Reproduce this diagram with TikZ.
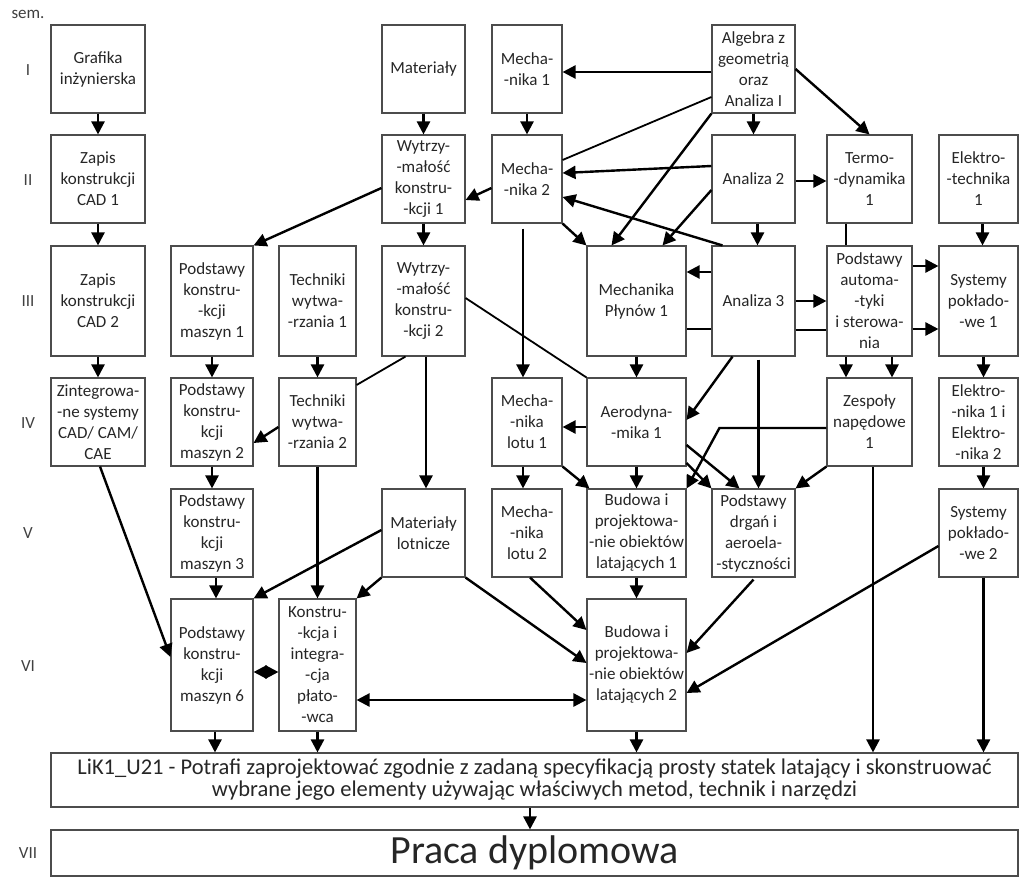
\documentclass[tikz,border=0pt]{standalone}
\usepackage{fontspec}
\setmainfont{Carlito}
\usetikzlibrary{arrows.meta}

\begin{document}
\begin{tikzpicture}[x=1pt, y=-1pt, >={Triangle[length=13pt,width=13pt]},
    box/.style={draw=black!70, line width=1.1pt, align=center, inner sep=0pt,
      text=black!85, font=\fontsize{17}{21}\selectfont,
      minimum height=88pt, minimum width=#1},
    box/.default=83pt,
    tall/.style={minimum height=110pt},
    taller/.style={minimum height=132pt},
    arr/.style={->, line width=2.4pt},
    ln/.style={line width=1.8pt},
    sem/.style={text=black!75, font=\fontsize{17}{20}\selectfont}]
  \useasboundingbox (0,0) rectangle (1019,877);

  % semestry
  \node[sem] (sem) at (28,14) {sem.};
  \node[sem] (s1) at (28,70) {I};
  \node[sem] (s2) at (28,180) {II};
  \node[sem] (s3) at (28,301) {III};
  \node[sem] (s4) at (28,423) {IV};
  \node[sem] (s5) at (28,533) {V};
  \node[sem] (s6) at (28,666) {VI};
  \node[sem] (s7) at (28,853) {VII};

  % kolumny
  \node[box=94pt] (graf) at (98,69) {Grafika\\inżynierska};
  \node[box=94pt] (cad1) at (98,179) {Zapis\\konstrukcji\\CAD 1};
  \node[box=94pt, tall] (cad2) at (98,301) {Zapis\\konstrukcji\\CAD 2};
  \node[box=94pt] (zint) at (98,422) {Zintegrowa-\\-ne systemy\\CAD/ CAM/\\CAE};

  \node[box=82pt, tall] (pkm1) at (212,301) {Podstawy\\konstru-\\-kcji\\maszyn 1};
  \node[box=82pt] (pkm2) at (212,422) {Podstawy\\konstru-\\kcji\\maszyn 2};
  \node[box=82pt] (pkm3) at (212,533) {Podstawy\\konstru-\\kcji\\maszyn 3};
  \node[box=82pt, taller] (pkm6) at (212,665) {Podstawy\\konstru-\\kcji\\maszyn 6};

  \node[box=77pt, tall] (tw1) at (317.5,301) {Techniki\\wytwa-\\-rzania 1};
  \node[box=77pt] (tw2) at (317.5,422) {Techniki\\wytwa-\\-rzania 2};
  \node[box=77pt, taller] (konstr) at (317.5,665) {Konstru-\\-kcja i\\integra-\\-cja\\płato-\\-wca};

  \node[box] (mat) at (423.5,69) {Materiały};
  \node[box] (wyt1) at (423.5,179) {Wytrzy-\\-małość\\konstru-\\-kcji 1};
  \node[box, tall] (wyt2) at (423.5,301) {Wytrzy-\\-małość\\konstru-\\-kcji 2};
  \node[box] (mlot) at (423.5,533) {Materiały\\lotnicze};

  \node[box=70pt] (mech1) at (527,69) {Mecha-\\-nika 1};
  \node[box=70pt] (mech2) at (527,179) {Mecha-\\-nika 2};
  \node[box=70pt] (ml1) at (527,422) {Mecha-\\-nika\\lotu 1};
  \node[box=70pt] (ml2) at (527,533) {Mecha-\\-nika\\lotu 2};

  \node[box=99pt, tall] (mpl) at (636.5,301) {Mechanika\\Płynów 1};
  \node[box=99pt] (aero) at (636.5,422) {Aerodyna-\\-mika 1};
  \node[box=99pt] (bud1) at (636.5,533) {Budowa i\\projektowa-\\-nie obiektów\\latających 1};
  \node[box=99pt, taller] (bud2) at (636.5,665) {Budowa i\\projektowa-\\-nie obiektów\\latających 2};

  \node[box] (alg) at (753.5,69) {Algebra z\\geometrią\\oraz\\Analiza I};
  \node[box] (an2) at (753.5,179) {Analiza 2};
  \node[box, tall] (an3) at (753.5,301) {Analiza 3};
  \node[box] (pdr) at (753.5,533) {Podstawy\\drgań i\\aeroela-\\-styczności};

  \node[box=85pt] (termo) at (869.5,179) {Termo-\\-dynamika\\1};
  \node[box=85pt, tall] (pa) at (869.5,301) {Podstawy\\automa-\\-tyki\\i sterowa-\\nia};
  \node[box=85pt] (zesp) at (869.5,422) {Zespoły\\napędowe\\1};

  \node[box=79pt] (el1) at (978.5,179) {Elektro-\\-technika\\1};
  \node[box=79pt, tall] (sp1) at (978.5,301) {Systemy\\pokłado-\\-we 1};
  \node[box=79pt] (eln) at (978.5,422) {Elektro-\\-nika 1 i\\Elektro-\\-nika 2};
  \node[box=79pt] (sp2) at (978.5,533) {Systemy\\pokłado-\\-we 2};

  \node[box=967pt, minimum height=54pt, font=\fontsize{22.5}{22}\selectfont] (lik) at (534.5,780)
    {LiK1\_U21 - Potrafi zaprojektować zgodnie z zadaną specyfikacją prosty statek latający i skonstruować\\wybrane jego elementy używając właściwych metod, technik i narzędzi};
  \node[box=967pt, minimum height=46pt, font=\fontsize{40}{44}\selectfont] (praca) at (534.5,853) {Praca dyplomowa};

  % semestr I
  \draw[arr] (graf) -- (cad1);
  \draw[arr] (mat) -- (wyt1);
  \draw[arr] (mech1) -- (mech2);
  \draw[arr] ([yshift=-3pt]alg.west) -- ([yshift=-3pt]mech1.east);
  \draw[arr] (alg) -- (an2);
  \draw[arr] (alg.east) -- (termo.north);
  \draw[ln] ([yshift=-28pt]alg.west) -- ([yshift=19pt]mech2.east);
  \draw[arr] (alg.south west) -- ([xshift=-25pt]mpl.north);

  % semestr II
  \draw[arr] (cad1) -- (cad2);
  \draw[arr] (wyt1) -- (wyt2);
  \draw[arr] ([yshift=-9pt]wyt1.west) -- (pkm1.north east);
  \draw[arr] ([yshift=-9pt]mech2.west) -- ([yshift=-21pt]wyt1.east);
  \draw[arr] ([yshift=13pt]an2.west) -- ([yshift=6pt]mech2.east);
  \draw[arr] ([yshift=-2pt]an2.east) -- ([yshift=-2pt]termo.west);
  \draw[arr] ([xshift=4pt]an2.south) -- ([xshift=4pt]an3.north);
  \draw[arr] ([yshift=-11pt]an2.west) -- ([xshift=26pt]mpl.north);
  \draw[arr] ([xshift=-31pt]an3.north) -- ([yshift=-18pt]mech2.east);
  \draw[arr] (mech2.south east) -- (mpl.north west);
  \draw[arr] ([xshift=-4pt,yshift=-5pt]mech2.south) -- ([xshift=-4pt]ml1.north);
  \draw[ln] ([xshift=-23.5pt]termo.south) -- ([xshift=-23.5pt]pa.north);
  \draw[arr] ([xshift=4pt]el1.south) -- ([xshift=4pt]sp1.north);

  % semestr III
  \draw[arr] (cad2) -- (zint);
  \draw[arr] (pkm1) -- (pkm2);
  \draw[arr] (tw1) -- (tw2);
  \draw[arr] ([xshift=2.5pt]wyt2.south) -- ([xshift=2.5pt]mlot.north);
  \draw[ln] ([yshift=3pt]wyt2.east) -- (aero.north west);
  \draw[ln] ([xshift=-18pt]wyt2.south) -- ([yshift=37pt]tw2.east);
  \draw[arr] (mpl) -- (aero);
  \draw[arr] ([yshift=29pt]an3.west) -- ([yshift=29pt]mpl.east);
  \draw[ln] ([yshift=-28pt]an3.west) -- ([yshift=-28pt]mpl.east);
  \draw[arr] (an3) -- (pa);
  \draw[ln] ([yshift=-29pt]an3.east) -- ([yshift=-29pt]pa.west);
  \draw[arr] ([yshift=35pt]pa.east) -- ([yshift=35pt]sp1.west);
  \draw[arr] ([yshift=-28pt]pa.east) -- ([yshift=-28pt]sp1.west);
  \draw[arr] ([xshift=-23.5pt]pa.south) -- ([xshift=-23.5pt]zesp.north);
  \draw[arr] ([xshift=22.5pt]pa.south) -- ([xshift=22.5pt]zesp.north);
  \draw[arr] ([xshift=5pt]sp1.south) -- ([xshift=5pt]eln.north);
  \draw[arr] ([xshift=-21pt]an3.south) -- ([yshift=2pt]aero.east);
  \draw[arr] ([xshift=5pt,yshift=-3pt]an3.south) -- ([xshift=5pt]pdr.north);

  % semestr IV
  \draw[arr] ([xshift=2pt]zint.south) -- ([yshift=8pt]pkm6.west);
  \draw[arr] (pkm2) -- (pkm3);
  \draw[arr] ([yshift=-5pt]tw2.west) -- ([yshift=-21pt]pkm2.east);
  \draw[arr] (tw2) -- (konstr);
  \draw[arr] ([yshift=-5pt]aero.west) -- ([yshift=-5pt]ml1.east);
  \draw[arr] ([xshift=-4pt]ml1.south) -- ([xshift=-4pt]ml2.north);
  \draw[arr] (ml1.south east) -- ([xshift=3pt]bud1.north west);
  \draw[arr] (aero) -- (bud1);
  \draw[arr] ([yshift=-23pt]aero.east) -- ([xshift=-14pt]pdr.north);
  \draw[arr] ([yshift=-41pt]aero.east) -- (pdr.north west);
  \draw[arr] ([yshift=-6pt]zesp.west) -- ([xshift=-107pt,yshift=-6pt]zesp.west) -- (bud1.north east);
  \draw[arr] (zesp.south west) -- (pdr.north east);
  \draw[arr] ([xshift=3.5pt]zesp.south) -- ([xshift=338.5pt]lik.north);
  \draw[arr] ([xshift=5pt]eln.south) -- ([xshift=5pt]sp2.north);

  % semestr V
  \draw[arr] ([xshift=4pt]pkm3.south) -- ([xshift=4pt]pkm6.north);
  \draw[arr] ([yshift=3pt]mlot.west) -- (pkm6.north east);
  \draw[arr] (mlot.south west) -- (konstr.north east);
  \draw[arr] (mlot.south east) -- ([yshift=2pt]bud2.west);
  \draw[arr] ([xshift=3pt]ml2.south) -- ([yshift=35pt]bud2.west);
  \draw[arr] (bud1) -- (bud2);
  \draw[arr] ([yshift=-2pt]pdr.south) -- ([yshift=12pt]bud2.east);
  \draw[arr] ([yshift=-13pt]sp2.west) -- ([yshift=-28pt]bud2.east);
  \draw[arr] ([xshift=5pt]sp2.south) -- ([xshift=449pt]lik.north);

  % semestr VI
  \draw[arr, <->] ([yshift=-7pt]pkm6.east) -- ([yshift=-7pt]konstr.west);
  \draw[arr, <->] ([yshift=-35pt]konstr.east) -- ([yshift=-35pt]bud2.west);
  \draw[arr] ([xshift=3pt]pkm6.south) -- ([xshift=-319.5pt]lik.north);
  \draw[arr] (konstr.south) -- ([xshift=-217pt]lik.north);
  \draw[arr] (bud2.south) -- ([xshift=102pt]lik.north);
  \draw[arr] ([xshift=-4.5pt]lik.south) -- ([xshift=-4.5pt]praca.north);
\end{tikzpicture}
\end{document}
